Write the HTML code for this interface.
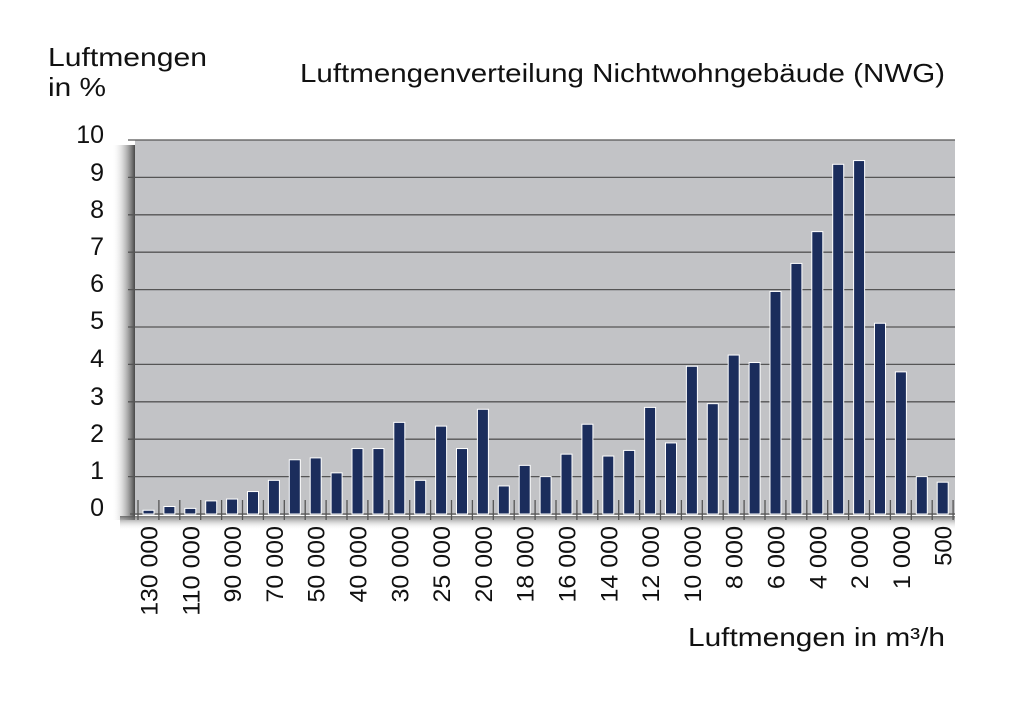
<!DOCTYPE html>
<html><head><meta charset="utf-8"><style>body{margin:0;background:#fff}</style></head>
<body>
<svg width="1024" height="708" viewBox="0 0 1024 708" xmlns="http://www.w3.org/2000/svg" font-family="Liberation Sans, DejaVu Sans, sans-serif">
<defs>
<linearGradient id="sh" x1="0" x2="1" y1="0" y2="0"><stop offset="0" stop-color="#fff" stop-opacity="0"/><stop offset="1" stop-color="#333" stop-opacity="0.9"/></linearGradient>
<linearGradient id="shb" x1="0" x2="0" y1="0" y2="1"><stop offset="0" stop-color="#555" stop-opacity="0.8"/><stop offset="1" stop-color="#fff" stop-opacity="0"/></linearGradient>
</defs>
<rect x="112" y="145" width="23" height="375" fill="url(#sh)"/>
<rect x="120" y="516" width="835" height="14" fill="url(#shb)"/>
<rect x="135" y="140" width="820" height="375" fill="#c2c3c6"/>
<g stroke="#555" stroke-width="1.3" id="grid"></g>
<g id="bars"></g>
<g id="labs" font-size="24" fill="#111"></g>
<g font-size="25" fill="#111" text-anchor="end">
<text x="104" y="143">10</text><text x="104" y="181">9</text><text x="104" y="218">8</text><text x="104" y="255">7</text><text x="104" y="292">6</text><text x="104" y="329">5</text><text x="104" y="367">4</text><text x="104" y="405">3</text><text x="104" y="442">2</text><text x="104" y="479">1</text><text x="104" y="516">0</text>
</g>
<text x="48" y="66" font-size="26" fill="#111" textLength="159" lengthAdjust="spacingAndGlyphs">Luftmengen</text>
<text x="48" y="96" font-size="26" fill="#111" textLength="58" lengthAdjust="spacingAndGlyphs">in %</text>
<text x="300" y="82" font-size="26" fill="#111" textLength="645" lengthAdjust="spacingAndGlyphs">Luftmengenverteilung Nichtwohngebäude (NWG)</text>
<text x="688" y="646" font-size="26" fill="#111" textLength="257" lengthAdjust="spacingAndGlyphs">Luftmengen in m³/h</text>
</svg>
<script>
const ns="http://www.w3.org/2000/svg";
const v=[0.1,0.2,0.15,0.35,0.4,0.6,0.9,1.45,1.5,1.1,1.75,1.75,2.45,0.9,2.35,1.75,2.8,0.75,1.3,1.0,1.6,2.4,1.55,1.7,2.85,1.9,3.95,2.95,4.25,4.05,5.95,6.7,7.55,9.35,9.45,5.1,3.8,1.0,0.85];
const L=["130 000","110 000","90 000","70 000","50 000","40 000","30 000","25 000","20 000","18 000","16 000","14 000","12 000","10 000","8 000","6 000","4 000","2 000","1 000","500"];
const y0=514,u=37.4,g=document.getElementById("grid"),b=document.getElementById("bars"),lb=document.getElementById("labs");
function el(p,t,a){const e=document.createElementNS(ns,t);for(const k in a)e.setAttribute(k,a[k]);p.appendChild(e);return e;}
for(let i=1;i<=10;i++){const y=y0-i*u;el(g,"line",{x1:128,x2:955,y1:y,y2:y});}
el(g,"line",{x1:130,x2:955,y1:y0,y2:y0});
for(let i=0;i<=39;i++){const x=138+i*20.9;el(g,"line",{x1:x,x2:x,y1:y0-14,y2:y0+6});}
v.forEach((h,i)=>{const cx=148.5+i*20.9;el(b,"rect",{x:cx-5.5,y:y0-h*u,width:11,height:h*u,fill:"#1b2d5c",stroke:"#fff","stroke-width":1});});
L.forEach((t,j)=>{const cx=148.5+j*2*20.9+9;const d=t.replace(/ /g,"").length,s=t.length-d;const len=d*13.3+s*10;const e=el(lb,"text",{x:0,y:0,transform:`translate(${cx},526) rotate(-90)`,"text-anchor":"end",textLength:len,lengthAdjust:"spacingAndGlyphs"});e.textContent=t;});
</script>
</body></html>
